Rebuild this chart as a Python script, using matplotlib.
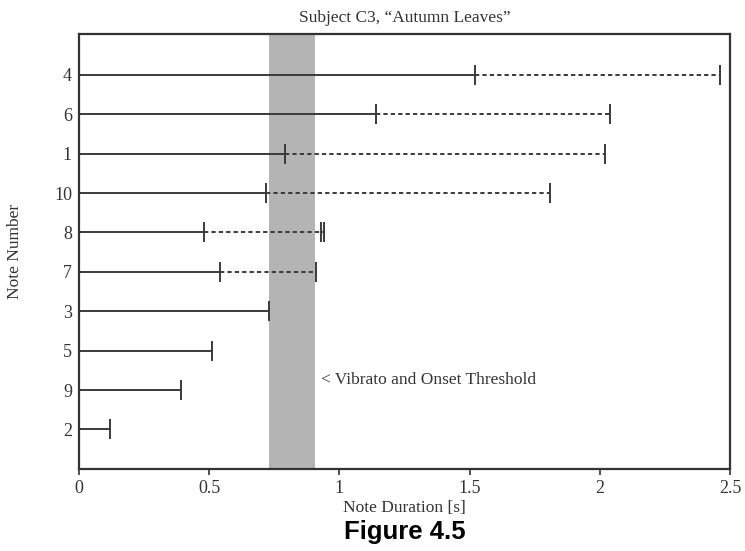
import matplotlib
matplotlib.use("Agg")
import matplotlib.pyplot as plt

# notes listed bottom to top
notes = ["2", "9", "5", "3", "7", "8", "10", "1", "6", "4"]
solid_end = [0.12, 0.39, 0.51, 0.73, 0.54, 0.48, 0.72, 0.79, 1.14, 1.52]
dashed_end = [None, None, None, None, 0.91, 0.94, 1.81, 2.02, 2.04, 2.46]
extra_ticks = {"8": 0.93}
threshold = (0.73, 0.905)

plt.rcParams["font.family"] = ["Liberation Serif", "DejaVu Serif"]

fig = plt.figure(figsize=(7.45, 5.51), dpi=100)
ax = fig.add_axes([0.106, 0.149, 0.874, 0.789])

line_col = "#3a3a3a"
txt_col = "#333333"
ax.axvspan(*threshold, color="#b4b4b4", lw=0, zorder=1)

for i, name in enumerate(notes):
    y = i + 1
    ax.plot([0, solid_end[i]], [y, y], color=line_col, lw=1.4, zorder=2)
    ax.plot([solid_end[i]], [y], marker="|", ms=14, mew=1.4, color=line_col, zorder=3)
    if dashed_end[i] is not None:
        ax.plot([solid_end[i], dashed_end[i]], [y, y], color=line_col, lw=1.4,
                ls=(0, (2.2, 1.6)), zorder=2)
        ax.plot([dashed_end[i]], [y], marker="|", ms=14, mew=1.4, color=line_col, zorder=3)
    if name in extra_ticks:
        ax.plot([extra_ticks[name]], [y], marker="|", ms=14, mew=1.4, color=line_col, zorder=3)

ax.set_xlim(0, 2.5)
ax.set_ylim(0.0, 11.03)
ax.set_xticks([0, 0.5, 1, 1.5, 2, 2.5])
ax.set_xticklabels(["0", "0.5", "1", "1.5", "2", "2.5"])
ax.set_yticks(range(1, len(notes) + 1))
ax.set_yticklabels(notes)
ax.tick_params(axis="y", length=0, labelsize=13, pad=5, colors=txt_col)
ax.tick_params(axis="x", length=4, width=1.2, labelsize=13, pad=4, colors=txt_col, direction="out")
for s in ax.spines.values():
    s.set_linewidth(1.6)
    s.set_color(txt_col)

ax.set_title("Subject C3, \u201cAutumn Leaves\u201d", fontsize=12.5, color=txt_col, pad=9)
ax.set_xlabel("Note Duration [s]", fontsize=12.5, color=txt_col, labelpad=2)
ax.set_ylabel("Note Number", fontsize=12.5, color=txt_col, labelpad=22)

ax.text(0.93, 2.25, "< Vibrato and Onset Threshold", fontsize=12.5, color=txt_col,
        va="center", ha="left")

fig.text(0.5435, 0.012, "Figure 4.5", fontsize=18.5, fontweight="bold",
         family="Liberation Sans", ha="center", va="bottom")

fig.savefig("out.png", dpi=100)
